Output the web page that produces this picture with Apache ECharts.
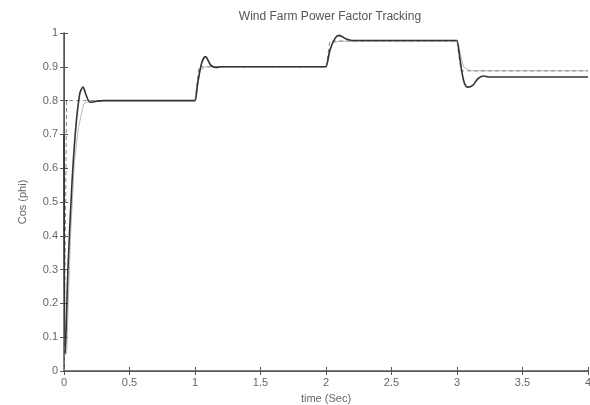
<!DOCTYPE html>
<html>
<head>
<meta charset="utf-8">
<script src="https://cdn.jsdelivr.net/npm/echarts@6/dist/echarts.min.js"></script>
<style>html,body{margin:0;padding:0;background:#fff;}#c{width:590px;height:405px;}</style>
</head>
<body>
<div id="c"></div>
<script>
// Actual wind farm power factor (solid)
var timeActual = [0, 0.01, 0.03, 0.06, 0.09, 0.12, 0.145, 0.17, 0.2, 0.25, 0.3, 0.98, 1.0, 1.02, 1.05, 1.08, 1.12, 1.16, 1.2, 1.99, 2.0, 2.03, 2.07, 2.1, 2.15, 2.2, 2.99, 3.0, 3.02, 3.05, 3.08, 3.12, 3.16, 3.2, 3.25, 4.0];
var cosActual  = [0.7, 0.05, 0.3, 0.55, 0.72, 0.82, 0.84, 0.815, 0.795, 0.798, 0.8, 0.8, 0.8, 0.85, 0.91, 0.93, 0.905, 0.898, 0.9, 0.9, 0.9, 0.95, 0.985, 0.993, 0.983, 0.978, 0.978, 0.978, 0.93, 0.86, 0.84, 0.845, 0.865, 0.873, 0.87, 0.87];
// Power factor reference (dashed)
var timeRef = [0, 0.02, 1.0, 1.03, 2.0, 2.03, 3.0, 3.03, 4.0];
var cosRef  = [0, 0.8, 0.8, 0.9, 0.9, 0.976, 0.976, 0.888, 0.888];
// Secondary light response (thin)
var timeAux = [0.02, 0.05, 0.08, 0.11, 0.15, 0.2, 1.0, 1.04, 1.08, 2.0, 2.05, 2.1, 3.0, 3.05, 3.1, 4.0];
var cosAux  = [0.05, 0.4, 0.62, 0.72, 0.79, 0.8, 0.8, 0.89, 0.9, 0.9, 0.97, 0.976, 0.976, 0.9, 0.888, 0.888];

var xTicks = ['0','0.5','1','1.5','2','2.5','3','3.5','4'];
var yTicks = ['0','0.1','0.2','0.3','0.4','0.5','0.6','0.7','0.8','0.9','1'];

function pairs(xs, ys){ return xs.map(function(x,i){ return [x, ys[i]]; }); }

var axisCol = '#555';
var labelStyle = {color:'#666', fontFamily:'Liberation Sans, Arial', fontSize:11};
var chart = echarts.init(document.getElementById('c'), null, {renderer:'canvas'});
chart.setOption({
  animation:false,
  backgroundColor:'#fff',
  title:{text:'Wind Farm Power Factor Tracking', left:325, top:6, textAlign:'center',
    textStyle:{color:'#555', fontWeight:'normal', fontSize:12, fontFamily:'Liberation Sans, Arial'}},
  grid:{left:64, right:2, top:33, bottom:34, containLabel:false, outerBoundsMode:'none'},
  xAxis:[{
    type:'value', min:0, max:4, interval:0.5, position:'bottom',
    name:'time (Sec)', nameLocation:'middle', nameGap:22,
    nameTextStyle:{color:'#666', fontSize:11, fontFamily:'Liberation Sans, Arial'},
    axisLine:{show:true, lineStyle:{color:axisCol, width:1.5}},
    axisTick:{show:true, inside:true, length:4, lineStyle:{color:axisCol}},
    axisLabel:{show:true, margin:6, formatter:function(v){ return xTicks[Math.round(v/0.5)]; }, color:labelStyle.color, fontSize:11, fontFamily:labelStyle.fontFamily},
    splitLine:{show:false}
  },{
    type:'value', min:0, max:4, interval:0.5, position:'top',
    axisLine:{show:true, lineStyle:{color:axisCol, width:1}},
    axisTick:{show:true, inside:true, length:4, lineStyle:{color:axisCol}},
    axisLabel:{show:false}, splitLine:{show:false}
  }],
  yAxis:[{
    type:'value', min:0, max:1, interval:0.1, position:'left',
    name:'Cos (phi)', nameLocation:'middle', nameGap:36, nameRotate:90,
    nameTextStyle:{color:'#666', fontSize:11, fontFamily:'Liberation Sans, Arial'},
    axisLine:{show:true, lineStyle:{color:axisCol, width:1.5}},
    axisTick:{show:true, inside:true, length:4, lineStyle:{color:axisCol}},
    axisLabel:{show:true, margin:6, formatter:function(v){ return yTicks[Math.round(v*10)]; }, color:labelStyle.color, fontSize:11, fontFamily:labelStyle.fontFamily},
    splitLine:{show:false}
  },{
    type:'value', min:0, max:1, interval:0.1, position:'right',
    axisLine:{show:true, lineStyle:{color:axisCol, width:1}},
    axisTick:{show:true, inside:true, length:4, lineStyle:{color:axisCol}},
    axisLabel:{show:false}, splitLine:{show:false}
  }],
  series:[
    {type:'line', name:'aux', data:pairs(timeAux, cosAux), showSymbol:false,
      lineStyle:{color:'#bbb', width:1}, z:1},
    {type:'line', name:'reference', data:pairs(timeRef, cosRef), showSymbol:false,
      lineStyle:{color:'#888', width:1, type:[4,3]}, z:2},
    {type:'line', name:'actual', data:pairs(timeActual, cosActual), showSymbol:false, smooth:0.3,
      lineStyle:{color:'#333', width:1.6}, z:3}
  ]
});
</script>
</body>
</html>
